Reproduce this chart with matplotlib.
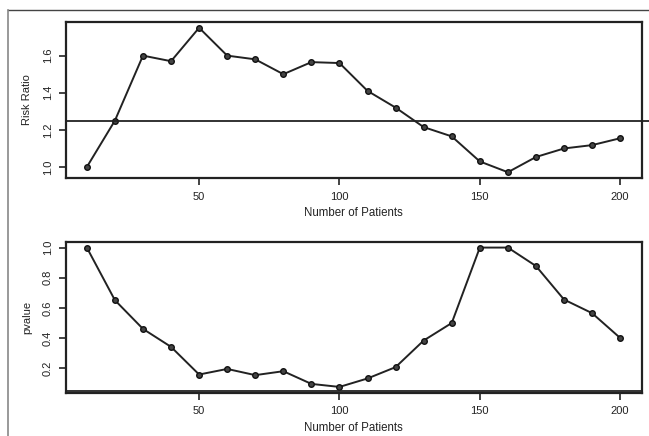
import matplotlib
matplotlib.use("Agg")
import matplotlib.pyplot as plt
from matplotlib.lines import Line2D

# data
patients = [10, 20, 30, 40, 50, 60, 70, 80, 90, 100,
            110, 120, 130, 140, 150, 160, 170, 180, 190, 200]
risk_ratio = [1.00, 1.25, 1.60, 1.57, 1.75, 1.60, 1.58, 1.50, 1.565, 1.56,
              1.41, 1.32, 1.215, 1.165, 1.03, 0.972, 1.054, 1.10, 1.118, 1.155]
pvalue = [1.00, 0.652, 0.462, 0.343, 0.160, 0.197, 0.156, 0.182, 0.098, 0.078,
          0.134, 0.209, 0.385, 0.501, 1.00, 1.00, 0.878, 0.656, 0.566, 0.402]
rr_ref = 1.25
p_ref = 0.05
xticks = [50, 100, 150, 200]
rr_ticks = [1.0, 1.2, 1.4, 1.6]
p_ticks = [0.2, 0.4, 0.6, 0.8, 1.0]

plt.rcParams['font.family'] = ['Liberation Sans', 'DejaVu Sans']
fig = plt.figure(figsize=(6.49, 4.36), dpi=100)

W, H = 649.0, 436.0
ax1 = fig.add_axes([65.5/W, (H-178)/H, 576/W, 156/H])
ax2 = fig.add_axes([65.5/W, (H-392.5)/H, 576/W, 150.5/H])

def style(ax, yt, ylab):
    for s in ax.spines.values():
        s.set_linewidth(1.6)
        s.set_color('#222222')
    ax.set_xticks(xticks)
    ax.set_yticks(yt)
    ax.set_yticklabels(['%.1f' % v for v in yt], rotation=90, va='center')
    ax.tick_params(direction='out', length=5, width=1.2, labelsize=8, colors='#222222', pad=4)
    ax.tick_params(axis='x', pad=5)
    # R style 4% padding, fixed before the reference lines are drawn
    ax.margins(x=0.04, y=0.04)
    ax.autoscale_view()
    ax.set_xlim(ax.get_xlim())
    ax.set_ylim(ax.get_ylim())
    ax.set_xlabel('Number of Patients', fontsize=8.3, labelpad=4, color='#222222')
    ax.set_ylabel(ylab, fontsize=8, labelpad=8, color='#222222')

ax1.plot(patients, risk_ratio, color='#222222', lw=1.4, marker='o', ms=4,
         mfc='#444444', mec='#111111', mew=1)
style(ax1, rr_ticks, 'Risk Ratio')
ax1.axhline(rr_ref, xmin=0, xmax=1.013, color='#222222', lw=1.3, clip_on=False)

ax2.plot(patients, pvalue, color='#222222', lw=1.4, marker='o', ms=4,
         mfc='#444444', mec='#111111', mew=1)
style(ax2, p_ticks, 'pvalue')
ax2.axhline(p_ref, color='#222222', lw=1.3)

# frame around the figure (top and left only visible)
fig.add_artist(Line2D([8/W, 1.0], [(H-10)/H, (H-10)/H], transform=fig.transFigure,
                      color='#444444', lw=1.0))
fig.add_artist(Line2D([8/W, 8/W], [0, (H-10)/H], transform=fig.transFigure,
                      color='#888888', lw=1.2))

fig.savefig('out.png', dpi=100)
